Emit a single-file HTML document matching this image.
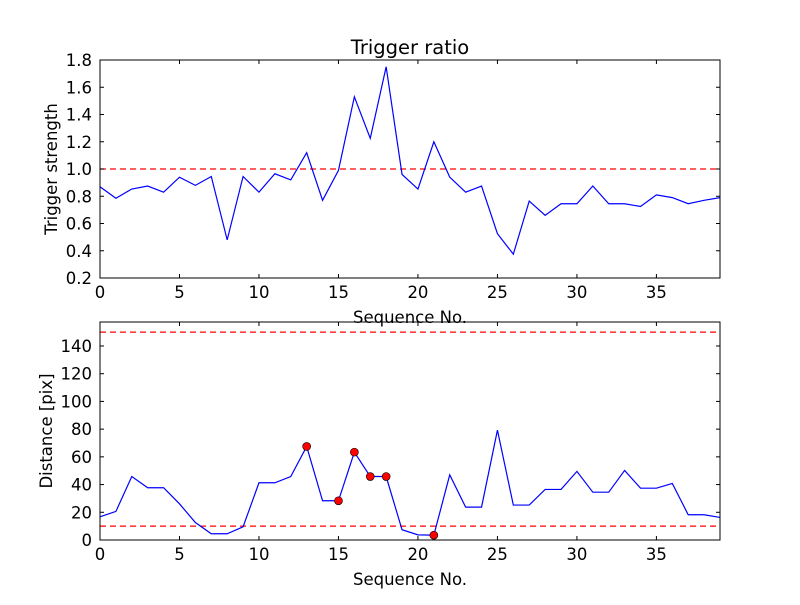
<!DOCTYPE html>
<html><head><meta charset="utf-8"><style>
body{margin:0;background:#fff;}
svg text{font-family:"DejaVu Sans","Liberation Sans",sans-serif;fill:#000;}
</style></head><body>
<svg id="fig" width="800" height="600" xmlns="http://www.w3.org/2000/svg">
<rect width="800" height="600" fill="#fff"/>
</svg>
<script>
const ratioValues=[0.87,0.785,0.853,0.875,0.83,0.94,0.88,0.945,0.48,0.945,0.83,0.965,0.92,1.12,0.77,0.99,1.53,1.225,1.75,0.96,0.853,1.20,0.94,0.83,0.875,0.525,0.375,0.765,0.66,0.745,0.745,0.875,0.745,0.745,0.725,0.81,0.79,0.745,0.77,0.79];
const distValues=[16.7,20.6,45.8,37.7,37.7,26.1,12.6,4.5,4.5,9.5,41.3,41.3,45.8,67.5,28.3,28.3,63.4,45.8,45.8,7.4,3.7,3.5,47,23.7,23.7,79.3,25.2,25.2,36.5,36.5,49.5,34.5,34.5,50.2,37.4,37.4,40.8,18.2,18.2,16.3];
const markedIdx=[13,15,16,17,18,21];
const xTicks=[0,5,10,15,20,25,30,35];
const ratioTicks=[0.2,0.4,0.6,0.8,1.0,1.2,1.4,1.6,1.8];
const distTicks=[0,20,40,60,80,100,120,140];
const ratioThreshold=[1.0];
const distThresholds=[10,150];

const svg=document.getElementById('fig');
const NS='http://www.w3.org/2000/svg';
function mk(tag,attrs,parent){const e=document.createElementNS(NS,tag);for(const k in attrs)e.setAttribute(k,attrs[k]);(parent||svg).appendChild(e);return e;}

function panel(cfg){
  const g=mk('g',{});
  
  
  const L=100,R=720,T=cfg.top,B=cfg.bottom;
  const xs=v=>L+(v-0)/(39-0)*(R-L);
  const ys=v=>B-(v-cfg.ymin)/(cfg.ymax-cfg.ymin)*(B-T);
  cfg.thr.forEach(t=>{const l=mk('line',{x1:L,x2:R,y1:ys(t),y2:ys(t),stroke:'#ff0000','stroke-width':1.2,'stroke-dasharray':'6,4'},g);
    
    });
  const pts=cfg.vals.map((v,i)=>xs(i).toFixed(2)+','+ys(v).toFixed(2)).join(' ');
  const pl=mk('polyline',{points:pts,fill:'none',stroke:'#0000ff','stroke-width':1.2},g);
  
  
  (cfg.marks||[]).forEach(i=>{const c=mk('circle',{cx:xs(i),cy:ys(cfg.vals[i]),r:4,fill:'#ff0000',stroke:'#000','stroke-width':0.6},g);
    
    });
  const fr=mk('rect',{x:L,y:T,width:R-L,height:B-T,fill:'none',stroke:'#000','stroke-width':1},g);
  
  
  xTicks.forEach(t=>{const x=xs(t);
    mk('line',{x1:x,x2:x,y1:B,y2:B-4,stroke:'#000'},g);
    mk('line',{x1:x,x2:x,y1:T,y2:T+4,stroke:'#000'},g);
    const tx=mk('text',{x:x,y:B+20,'text-anchor':'middle','font-size':16.5},g);tx.textContent=t;
    
    });
  cfg.ticks.forEach(t=>{const y=ys(t);
    mk('line',{x1:L,x2:L+4,y1:y,y2:y,stroke:'#000'},g);
    mk('line',{x1:R,x2:R-4,y1:y,y2:y,stroke:'#000'},g);
    const tx=mk('text',{x:L-8,y:y+6,'text-anchor':'end','font-size':16.5},g);tx.textContent=cfg.fmt(t);
    
    });
  const xl=mk('text',{x:410,y:B+45,'text-anchor':'middle','font-size':16.5},g);xl.textContent='Sequence No.';
  
  
  const yl=mk('text',{x:0,y:0,'text-anchor':'middle','font-size':16.5,transform:`translate(${cfg.ylx},${(T+B)/2}) rotate(-90)`},g);yl.textContent=cfg.ylabel;
  
  
  if(cfg.title){const tt=mk('text',{x:410,y:54,'text-anchor':'middle','font-size':19.5},g);tt.textContent=cfg.title;
    
    }
}
panel({name:'trigger-ratio-panel',top:60,bottom:278,ymin:0.2,ymax:1.8,vals:ratioValues,thr:ratioThreshold,ticks:ratioTicks,fmt:t=>t.toFixed(1),ylabel:'Trigger strength',ylx:57,title:'Trigger ratio'});
panel({name:'distance-panel',top:322,bottom:540,ymin:0,ymax:157.3,vals:distValues,thr:distThresholds,ticks:distTicks,fmt:t=>String(t),ylabel:'Distance [pix]',ylx:52,marks:markedIdx});
</script>
</body></html>
